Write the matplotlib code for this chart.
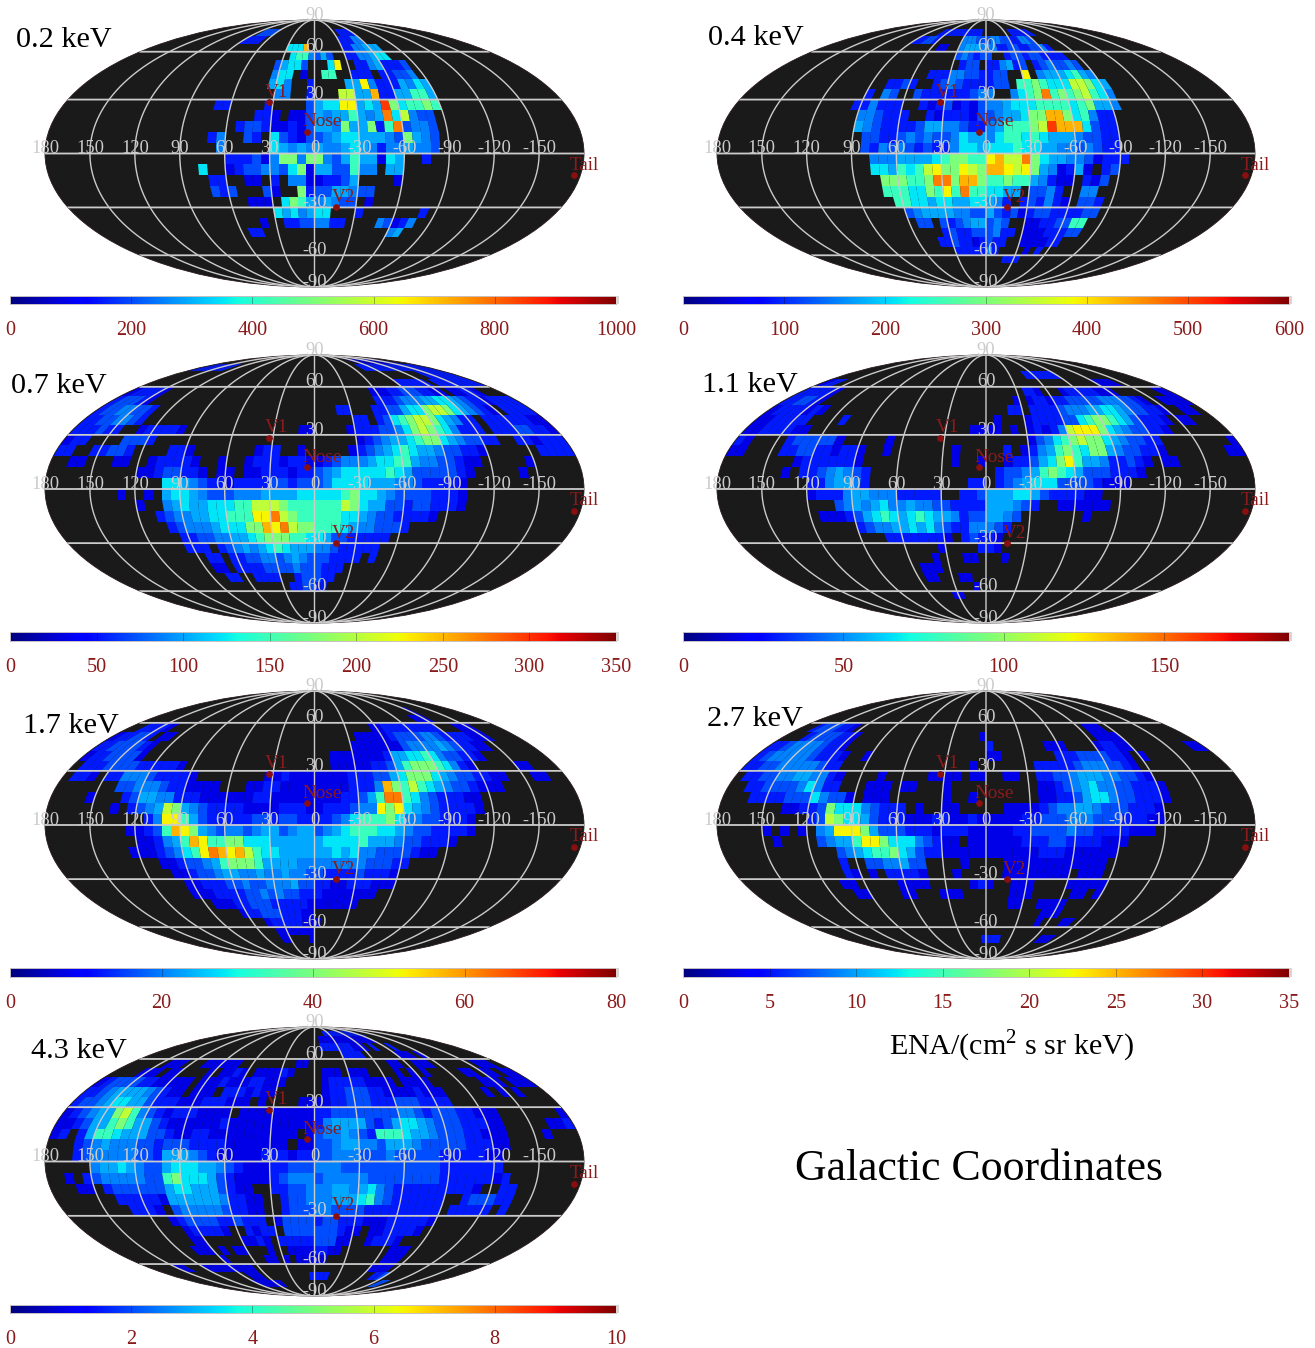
import numpy as np
import matplotlib
matplotlib.use('Agg')
import matplotlib.pyplot as plt
from matplotlib.patches import Rectangle

plt.rcParams['font.family'] = ['Liberation Serif', 'DejaVu Serif']
plt.rcParams['mathtext.fontset'] = 'custom'
plt.rcParams['mathtext.rm'] = 'Liberation Serif'

W, H = 1315, 1348

# share of the colour bar for each level character, '.' means no data
levels = {'1': .09, '2': .15, '3': .20, '4': .25, '5': .29, '6': .35, '7': .42,
          '8': .50, '9': .58, 'a': .65, 'b': .72, 'c': .78, 'd': .85}

# rows run from lat +90 down, 6 deg bins, columns from lon +180 to -180
rows_02 = [
"", "",
".......... ......3333 .......... ......2222",
".......... .....2222. .......... .....22244",
".......... .......... .....666b. .....22445 55",
".......... .......... ......6774 353..22445 66",
".......... .......... ....35663. ..6a..2245 2223",
".......... .......... ....466.1. .77..222.2 2334",
".......... .......... ....564..2 ....55a422 25465",
".......... .......... .....44..2 ...9955b22 55775",
".......... ........22 ....2....3 566aa565d8 67787",
".......... .......... ...221.113 54557545c6 9433",
".......... .......... .233211213 554855827c 3443",
".......... ........24 ..32.63213 3456655543 8543",
".......... .........4 .....65454 5445654244 5443",
".......... .......... 2223148848 8435755165 ..2",
".......... .......6.. 1233443681 5533744.55",
".......... ........22 ..11.2.441 12235....1",
".......... ........32 3...31..82 3355433",
".......... .......... ..111.6875 45433.1",
".......... .......... .....65645 66...2.... ...2",
".......... .......... ...1..2233 4422....43 124",
".......... .......... .22....... .......... 45",
]
rows_04 = [
"", "",
".......... ........22 222222222. ......2222 22",
".......... .....22332 .....44433 3443322443",
".......... .......... .11..45554 4422332233 42",
".......... .......... .....34323 3..2332332 222",
".......... .......... ......233. 224523.234 3343",
".......... .......... ..22244332 233..a.455 56754",
".......... .......223 2..2343222 233.778766 699865",
".......... .....2.43. .322222234 4..4678c78 789764",
".......... ....224222 ..21231213 4456667777 678554",
".......... .....44322 2..2122213 3455688bb8 67422",
".......... .....54322 2235544322 4577789dbb b6322",
".......... ......3322 3434334655 4677676555 43322",
".......... ......3243 4323224665 6667665544 34322",
".......... .......444 5555678877 ab99c86554 431222",
".......... .......665 7679a88a98 bba9a85412 51.23",
".......... ........88 8778cc8bb8 7787754211 .213",
".......... ........77 76687a7c77 6655.3342. .44",
".......... .........7 7665665566 542.232421 .332",
".......... .......... 3455554433 5323123322 2233",
".......... .......... .33.323455 343..11223 377",
".......... .......... ....232233 3422.11122 233",
".......... .......... ...2232212 322..11112 2",
".......... .......... .....22222 42....1.2",
".......... .......... .......... ...222",
]
rows_07 = [
"",
".......... .......... .......... .......... ....111111 1111111",
"22222222.. .......... .......... .......... ..22222222 2222222222",
".......... .......... .......... .......... .......... ...2222222",
".......... .......... .......... .......... .....22222 2.22222222",
"122221.... .......... .......... .........1 1122333221 1.11221...",
"233321.... .......... .......... .........2 2234445566 5432212222",
"23344332.. .......... .......... ...22...22 3356689986 54321.2222",
"22334432.. .......... .......... .....22.23 6789986542 2.22222211",
"222322..12 2221...... ........11 ....122233 4689876422 2.22233221",
"122....333 2......... .......... .....12345 5678865433 22..221222",
"22..22332. ...221.... ...122..1. ....123456 7655433221 ......2222",
"..11...11. .122221..1 ..12221221 1234445667 754433211. ....1",
".......... 11233221.1 1.11222122 3456666676 53333321.. ...1",
".......... ...6654322 1222233233 3466665554 4322221",
"........1. .1.5665433 3444555566 6667866543 3332221",
".......... 1..4565566 6779998777 7779865533 2332221",
".......... ..23445566 777aac9877 7776654332 2221",
".......... ...2344456 6688bac988 7776544333 2",
".......... ....223344 5567888776 653322222",
".......... ....222.23 4545676555 44322222",
".......... ......22.2 2334434543 332222.2",
".......... ......11.2 2223333433 3222",
".......... .......22. .2222..233 322",
".......... .......... ......2233 22",
]
rows_11 = [
"", "", "",
".......... .......... .......... ........22 22222",
"122....... .......... .......... .......... .......... 1111",
"222221.... .......... .......... ......221. ..12222211 1.......11",
"223321.... .......... .......... ....1.1221 2233333444 3321..1111",
"12222121.. .......... .......... ...22.2222 3444556654 33221..11.",
"1122222... .2........ .......... .1...12222 3367887653 2221.11...",
"11222211.. .......... ........11 11.1.12124 9aaa865433 221",
"21....2333 331.....1. .......... .....13467 8988654332 2........1",
"11....2233 221221..1. ......1... ..2.124578 7688543322 1.......11",
"........12 222221.... ......1..1 ..1223568a 755422321. 11",
".......1.2 2345432... .......... .233457876 53332221",
".......... 2245542... ........22 .234566633 332111",
".......... 1222455444 22222..223 5556653222 211",
".......... ...3454564 4544332222 555432..11 1111",
".......... .111235676 5676554233 5543...... .1",
".......... .....23445 5656432244 432",
".......... ........22 222221.232 21",
".......... .......... ....1....2 21",
".......... .......... ...1...11. ..1",
".......... .......... .111",
".......... .......... .11...11",
".......... .......... ........1",
".......... .......... ....11",
]
rows_17 = [
"", "", "",
".......... .......... .......... .......... .......... 1",
".......... .......... .......... .......... ........11 1",
"..22221... .......... .......... .........1 1222222222 ...111",
"122332.11. .......... .......... ......1111 1233334432 222111",
"22333321.. .......... .......... .....11111 1134444543 2211",
"12233331.. .......... .......... ..11111112 5566764332 21",
".222333322 2221...... .......... ..11111223 5788876421 .....11",
".221.22444 322221.... ....112111 1111222335 6888654332 211...11",
".......334 443221111. ..11221111 11112224b8 7976543321 11",
"....1...23 5544222111 1112211111 11122357cc 764322211",
".......1.2 3459854322 2211112221 1222344a8a 654322221",
".......... .24aa75322 2223323322 2234677786 44332221",
".........1 1237ba8543 4434553455 3456777665 43322221",
".......... 112457ba77 8866655555 5666675554 332221",
".........1 1123467acb ab97665555 5565644333 3211",
".......... ..11233457 8887555544 4444443332 2",
".......... ...1123345 5445445443 3222232221",
".......... ....112223 3433444533 2211222111",
".......... ....111222 2334343322 21111111",
".......... ......1112 2333222221 111111",
".......... .........1 2233322211",
".......... .......... ..12222211 1",
".......... .......... ...1111111",
".......... .......... ...11....1",
]
rows_27 = [
"", "", "", "", "",
"..2333221. .......... .......... .......... ......111",
"...2333322 1......... .........1 .......... ......1111",
"2234444322 1......... .......... 2.......11 1....12211 ........11",
"2344444322 21..1..... .......... 11.......2 223333221. 1",
"2233444443 22........ ........1. ......2222 234443321",
".223344554 421....1.. ...1111.11 ..11..2233 4555443321",
"..22333346 422...111. 11...1.... ......1123 4564433222 1",
"...2222333 64331.111. .....1..1. ......1122 3566433222 1",
".......112 2386664322 2.1..11... ..11112344 5543332221",
".......... 2398665322 2111221121 1111223334 4433322211",
".....1.1.1 .45aaa8533 3222122211 1112233334 332222111",
"......1... .34557aa86 6643211.11 1111222332 222111",
".......... ...3456778 6532211111 1111112221 11111",
".......... ...2..3344 533....1.. ..11111111 1111",
".......... ...21.1.22 221...1... ..11111111 .111",
".......... ..11.....1 111.....12 1..111.... 11111",
".......... ...11....1 1...111... ...111.... .11.1",
".......... .......... .......... ...11..111 1",
".......... .......... .......... ........11 1",
".......... .......... .......... ........1. ..11",
"",
".......... .......... .........2 222....... .111",
]
rows_43 = [
"",
".......... .......... .......... ...2222222 222222",
".......... .......... .......... .111111111 11111",
".......... .......... .......... .222222211 1.2...2",
".......... .......... .......... .....2222. .....111.1",
"......111. ..111111.. .......11. .......... ..11..111. ......111.",
"....111.11 ....1.1121 .111121... .111.111.. ..1.1.1... ..11.11.11",
"1233332211 111.111211 122111.... .122222111 1.1111.... ...111.111",
"2234555543 211.111.22 21211..... .122333221 1112111... ..1.1.1",
"2334566553 2221112221 11.1....11 1122333222 3332222",
"1234558974 3212221111 .111111111 2233333333 4432333221 11.......1",
"1123557875 5321111112 1111111111 2455553235 6654333222 11.....112",
"12.2577655 5332112211 11111111.1 3445432777 6554333221 11....1",
"...2345444 3323332222 1111111.11 3345544355 5433333222 11",
"...2344444 3325554321 1111222122 3344433343 3333222221 1",
".....45565 4335666554 3211122333 4443333333 3333222222 2",
"..1.234444 4337866653 2111123444 3444443333 3333222222 12",
"...11.2333 3335665553 211..22334 4455456432 222222221. .22",
".......222 2215555554 2211..2334 4455567432 22222..233 322",
"........22 21.3444443 2211..2333 4433332222 22222.2222 2.2",
".......... ..12333322 3222.13333 2332221112 22221",
".......... ...122221. .2122.3333 333211.112 2221",
".......... ...11..... 1121.22222 33311..122 21",
".......... ..111.1.11 ...1..1111 2211...... .111",
".......... .....1.... ..11.1.111 11........ .111",
".....11... 111111111. .......... .......... 1111",
".......... ......111. .........2 222....... ..223",
".......... .....11111 11........ .......... ......33",
]

names = ['0.2 keV', '0.4 keV', '0.7 keV', '1.1 keV', '1.7 keV', '2.7 keV', '4.3 keV']
vmaxs = [1000, 600, 350, 189, 80, 35, 10]
ticks = [[0, 200, 400, 600, 800, 1000], [0, 100, 200, 300, 400, 500, 600],
         [0, 50, 100, 150, 200, 250, 300, 350], [0, 50, 100, 150],
         [0, 20, 40, 60, 80], [0, 5, 10, 15, 20, 25, 30, 35], [0, 2, 4, 6, 8, 10]]
all_rows = [rows_02, rows_04, rows_07, rows_11, rows_17, rows_27, rows_43]

lon_labels = [180, 150, 120, 90, 60, 30, 0, -30, -60, -90, -120, -150]
lat_labels = [90, 60, 30, -30, -60, -90]
marks = {'V1': (33, 28.4), 'Nose': (5, 12), 'V2': (-15.6, -30), 'Tail': (-175.6, -12)}

# pixel boxes: map (left, right, top, bottom), bar (left, right, top, bottom), title (x, baseline)
map_x = [(45, 584), (717, 1255)]
map_y = [(20, 287), (355, 623), (691, 959), (1027, 1296)]
bar_x = [(10, 616), (683, 1289)]
bar_y = [(296, 304), (632, 641), (968, 977), (1305, 1313)]
title_pos = [(16, 47), (708, 45), (11, 393), (702, 392), (23, 733), (707, 726), (31, 1058)]

DARK = '#8b1a1a'
GRID = '#cbcbcb'


def px_rect(x0, x1, y0, y1):
    return [x0 / W, 1 - y1 / H, (x1 - x0) / W, (y1 - y0) / H]


fig = plt.figure(figsize=(W / 100, H / 100), dpi=100)

for i, name in enumerate(names):
    col, line = i % 2, i // 2
    ax = fig.add_axes(px_rect(*map_x[col], *map_y[line]), projection='mollweide')
    ax.set_aspect('auto')
    ax.set_facecolor('#1a1a1a')
    ax.grid(False)
    ax.set_xticklabels([])
    ax.set_yticklabels([])
    ax.spines['geo'].set_edgecolor('#2a1a1a')
    ax.spines['geo'].set_linewidth(0.6)

    grid = np.full((30, 60), np.nan)
    for r, row in enumerate(all_rows[i]):
        for c, ch in enumerate(row.replace(' ', '')[:60]):
            if ch != '.':
                grid[29 - r, c] = levels[ch] * vmaxs[i]
    xe = np.radians(np.linspace(-180, 180, 61))
    ye = np.radians(np.linspace(-89.99, 89.99, 31))
    ax.pcolormesh(xe, ye, np.ma.masked_invalid(grid), cmap='jet', vmin=0, vmax=vmaxs[i],
                  shading='flat', antialiased=True, linewidth=0, rasterized=True)

    lat_line = np.radians(np.linspace(-89.9, 89.9, 120))
    for lon in range(-180, 181, 30):
        if abs(lon) == 180:
            continue
        ax.plot(np.full_like(lat_line, np.radians(lon)), lat_line, color=GRID, lw=1.0, zorder=3)
    lon_line = np.radians(np.linspace(-179.9, 179.9, 50))
    for lat in [-60, -30, 0, 30, 60]:
        ax.plot(lon_line, np.full_like(lon_line, np.radians(lat)), color=GRID, lw=1.3, zorder=3)

    for lon in lon_labels:
        ax.annotate(str(lon), (np.radians(-lon), 0), xytext=(0, 3.5), textcoords='offset points',
                    ha='center', va='center', color=GRID, fontsize=13.3, zorder=4,
                    annotation_clip=False)
    for lat in lat_labels:
        ax.annotate(str(lat), (0, np.radians(np.clip(lat, -89.9, 89.9))), xytext=(0, 3.5),
                    textcoords='offset points', ha='center', va='center', color=GRID,
                    fontsize=13.3, zorder=4, annotation_clip=False)

    for label, (lon, lat) in marks.items():
        xy = (np.radians(-lon), np.radians(lat))
        ax.plot(*xy, 'o', color='#8b0f0f', ms=3.8, zorder=5)
        ax.annotate(label, xy, xytext=(-3, 4), textcoords='offset points', ha='left', va='baseline',
                    color=DARK, fontsize=13.8, zorder=6, annotation_clip=False)

    bx0, bx1 = bar_x[col]
    by0, by1 = bar_y[line]
    cax = fig.add_axes(px_rect(bx0, bx1, by0, by1))
    cax.imshow(np.linspace(0, vmaxs[i], 256)[None, :], cmap='jet', aspect='auto',
               extent=[0, vmaxs[i], 0, 1], vmin=0, vmax=vmaxs[i])
    for t in ticks[i][1:]:
        cax.axvline(t, color='k', alpha=0.3, lw=0.7)
    cax.set_yticks([])
    cax.set_xticks(ticks[i])
    cax.set_xticklabels([str(t) for t in ticks[i]])
    cax.tick_params(axis='x', length=0, pad=12, labelsize=14.6, labelcolor=DARK)
    for sp in cax.spines.values():
        sp.set_edgecolor('#c8c0c0')
        sp.set_linewidth(0.7)
    fig.add_artist(Rectangle((bx1 / W, 1 - by1 / H), 3 / W, (by1 - by0) / H,
                             transform=fig.transFigure, color='#dcd4d4', lw=0))

    tx, ty = title_pos[i]
    fig.text(tx / W, 1 - ty / H, name, color='k', fontsize=21.8, ha='left', va='baseline')

fig.text(1011 / W, 1 - 1055 / H, r'ENA/(cm$^{\mathrm{2}}$ s sr keV)', fontsize=21.6,
         ha='center', va='baseline', color='k')
fig.text(979 / W, 1 - 1180 / H, 'Galactic Coordinates', fontsize=31.6,
         ha='center', va='baseline', color='k')

fig.savefig('out.png', dpi=100, facecolor='white')
